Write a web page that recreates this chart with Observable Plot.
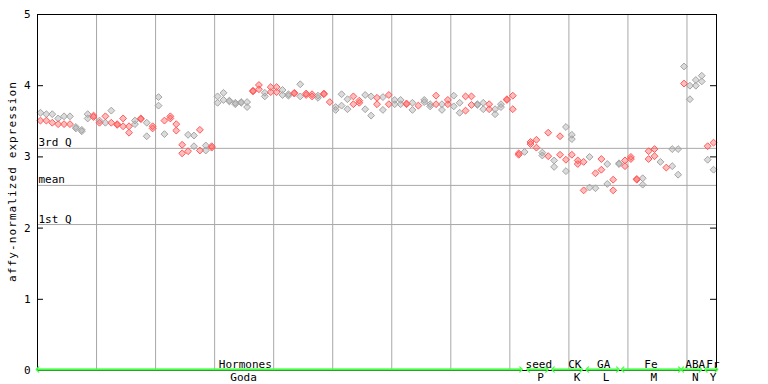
<!DOCTYPE html>
<html>
<head>
<meta charset="utf-8">
<script src="https://cdn.jsdelivr.net/npm/d3@7"></script>
<script src="https://cdn.jsdelivr.net/npm/@observablehq/plot@0.6"></script>
<style>
  html, body { margin: 0; padding: 0; background: #fff; }
  #chart svg { display: block; }
</style>
</head>
<body>
<div id="chart"></div>
<script>
// expression values per sample (replicates)
const expr = [
  [3.62,3.51],[3.60,3.51],[3.60,3.48],[3.54,3.46],[3.57,3.46],[3.57,3.46],[3.42,3.40],[3.38,3.36],[3.60,3.54],[3.58,3.56],
  [3.51,3.48],[3.57,3.48],[3.65,3.48],[3.46,3.45],[3.54,3.43],[3.43,3.34],[3.51,3.46],[3.54,3.53],[3.48,3.29],[3.43,3.40],
  [3.84,3.72],[3.51,3.32],[3.57,3.54],[3.46,3.37],[3.17,3.05],[3.31,3.08],[3.30,3.15],[3.38,3.09],[3.16,3.09],[3.15,3.13],
  [3.85,3.76],[3.90,3.80],[3.79,3.78],[3.76,3.74],[3.77,3.76],[3.77,3.70],[3.93,3.92],[4.01,3.95],[3.90,3.85],[3.98,3.91],
  [3.98,3.91],[3.94,3.87],[3.88,3.86],[3.90,3.89],[4.02,3.85],[3.89,3.87],[3.88,3.85],[3.86,3.83],[3.89,3.88],[3.77],
  [3.70,3.66],[3.88,3.72],[3.81,3.67],[3.85,3.74],[3.79,3.76],[3.87,3.67],[3.85,3.58],[3.83,3.74],[3.84,3.66],[3.87,3.74],
  [3.80,3.74],[3.80,3.74],[3.75,3.74],[3.76,3.66],[3.72],[3.80,3.77],[3.74,3.71],[3.86,3.74],[3.74,3.66],[3.80,3.74],
  [3.86,3.71],[3.76,3.62],[3.85,3.65],[3.85,3.73],[3.74,3.73],[3.76,3.67],[3.74,3.67],[3.67,3.60],[3.74,3.70],[3.81,3.80],
  [3.86,3.67],[3.05,3.03],[3.07],[3.21,3.18],[3.24,3.13],[3.06,3.02],[3.34,3.01],[2.95,2.86],[3.29,3.03],[3.42,2.96,2.80],
  [3.31,3.25,3.03],[2.95,2.90],[2.93,2.53],[3.00,2.57],[2.77,2.56],[2.97,2.82],[2.90,2.62],[2.68,2.53],[2.91,2.90],[2.95,2.87],
  [3.00,2.97],[2.69,2.68],[2.70,2.61],[3.08,2.97],[3.11,3.01],[2.93],[2.85],[3.11,2.87],[3.11,2.75],[4.27,4.03],
  [4.00,3.81],[4.08,4.00],[4.14,4.06],[3.15,2.96],[3.20,2.82]
];
// colour code per replicate: g = gray, r = red
const colorCodes = [
  "gr","gr","gr","gr","gr","gr","gg","gg","gg","rr",
  "gr","rg","gr","rr","rr","rr","gg","rr","gg","rr",
  "gg","rg","rr","rr","rr","gr","gg","rr","gg","rr",
  "gg","gg","gg","gg","gg","gg","rr","rr","gg","rr",
  "rr","gg","gg","rr","gg","rr","rr","gg","rr","r",
  "gg","gg","gg","rr","rr","gg","gg","rr","gg","rr",
  "gg","gg","rr","gg","r","gg","gg","rr","gg","rr",
  "gg","gg","rr","rr","gg","gg","rr","gg","gg","rr",
  "rr","rr","g","rr","rr","gg","rr","gg","rr","grg",
  "ggr","rr","rr","gg","rg","rr","gg","rr","gg","rr",
  "rr","rr","gg","rr","rr","g","r","gg","gg","gr",
  "gg","gg","gg","rg","rg"
];
const yTicks = [0, 1, 2, 3, 4, 5];
const gridX = [9.5, 19.5, 29.5, 39.5, 49.5, 59.5, 69.5, 79.5, 89.5, 99.5, 109.5];
const statLabels = ["3rd Q", "mean", "1st Q"];
const statValues = [3.12, 2.60, 2.05];
const groupTop = ["Hormones", "seed", "CK", "GA", "Fe", "ABA", "Fr"];
const groupBottom = ["Goda", "P", "K", "L", "M", "N", "Y"];
const groupStart = [-0.5, 82.6, 86.8, 92.6, 98.6, 108.7, 112.7];
const groupEnd = [81.4, 85.8, 91.6, 97.8, 108.3, 111.8, 114.5];
const topAt = [34.7, 84.4, 90.5, 95.4, 103.4, 110.9, 113.9];
const bottomAt = [34.4, 84.7, 90.9, 95.8, 103.9, 110.9, 113.9];

const RED = "#ff5a5a", GRAY = "#a4a4a4", GRID = "#a8a8a8", GREEN = "#44ff44";

const points = expr.flatMap((vs, i) => vs.map((v, k) => ({
  i, v, c: colorCodes[i][k] === "r" ? RED : GRAY
})));
// draw gray first, red on top
points.sort((a, b) => (a.c === RED) - (b.c === RED));

const chart = Plot.plot({
  width: 768,
  height: 384,
  marginLeft: 37,
  marginRight: 52,
  marginTop: 14,
  marginBottom: 14,
  style: { fontFamily: "DejaVu Sans Mono, monospace", fontSize: "11px", color: "black", background: "white" },
  x: { domain: [-0.5, 114.5], axis: null },
  y: { domain: [0, 5], axis: null },
  color: { type: "identity" },
  marks: [
    Plot.ruleX(gridX, { stroke: GRID }),
    Plot.ruleY(statValues, { stroke: GRID }),
    Plot.text(statLabels, { y: (d, i) => statValues[i], frameAnchor: "left", textAnchor: "start", lineAnchor: "bottom", dx: 1, dy: -2, fill: "black" }),
    Plot.dot(points, { x: "i", y: "v", symbol: "diamond2", r: 3.1, stroke: "c", fill: "c", fillOpacity: 0.4, strokeWidth: 1 }),
    Plot.frame({ stroke: "black" }),
    Plot.ruleY(yTicks, { stroke: "black", insetRight: 673 }),
    Plot.ruleY(yTicks, { stroke: "black", insetLeft: 673 }),
    Plot.axisY({ ticks: yTicks, tickSize: 0, tickPadding: 7, label: null, tickFormat: d => String(d) }),
    Plot.text(["affy-normalized expression"], { frameAnchor: "left", textAnchor: "middle", rotate: -90, dx: -25, dy: -11, fill: "black", fontSize: 11 }),
    Plot.link(groupTop, { x1: (d, i) => groupStart[i], x2: (d, i) => groupEnd[i], y1: 0, y2: 0, stroke: GREEN, strokeWidth: 2, dy: -1 }),
    Plot.link(groupTop, { x1: (d, i) => groupStart[i], x2: (d, i) => groupEnd[i], y1: 0, y2: 0, stroke: GREEN, strokeWidth: 1.3, dy: -1, markerStart: "arrow-reverse", markerEnd: "arrow" }),
    Plot.text(groupTop, { x: (d, i) => topAt[i], y: 0, lineAnchor: "bottom", dy: -3, fill: "black" }),
    Plot.text(groupBottom, { x: (d, i) => bottomAt[i], y: 0, lineAnchor: "top", dy: 3, fill: "black" })
  ]
});
// widen the letter spacing of the rotated axis title, as in the reference
d3.select(chart).selectAll("text")
  .filter(function () { return this.textContent === "affy-normalized expression"; })
  .style("letter-spacing", "1.1px");
document.getElementById("chart").appendChild(chart);
</script>
</body>
</html>
